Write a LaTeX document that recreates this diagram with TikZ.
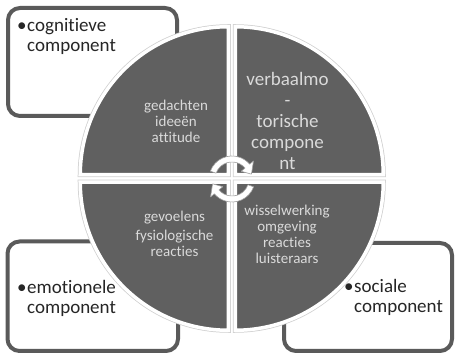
\documentclass[tikz,border=0pt]{standalone}
\usepackage{fontspec}
\setmainfont{Carlito}[Ligatures=NoCommon]
\definecolor{boxgray}{HTML}{5A5A5A}
\definecolor{outgray}{HTML}{CFCFCF}
\definecolor{quadfill}{HTML}{606060}
\definecolor{textdark}{HTML}{262626}
\definecolor{qtextc}{HTML}{DADADA}
\definecolor{arrowgray}{HTML}{A0A0A0}
\begin{document}
\begin{tikzpicture}[x=1pt,y=1pt,
  boxstyle/.style={draw=boxgray, line width=4pt, fill=white, rounded corners=12pt},
  quadout/.style={draw=outgray, line width=5pt, line join=miter},
  quadin/.style={draw=white, line width=3.5pt, fill=quadfill, line join=miter},
  boxtext/.style={font=\fontsize{19}{20}\selectfont, text=textdark, align=left, inner sep=0pt, anchor=base west},
  qtext/.style={font=\fontsize{15}{16}\selectfont, text=qtextc, align=center, inner sep=0pt, anchor=base},
  qtextbig/.style={font=\fontsize{19}{21}\selectfont, text=qtextc, align=center, inner sep=0pt, anchor=base},
  cyc/.style={fill=white, draw=arrowgray, line width=0.6pt, line join=round}]
\useasboundingbox (0,0) rectangle (455,355);

% outer boxes
\draw[boxstyle] (8,239) rectangle (177,347);
\draw[boxstyle] (7.5,4) rectangle (178,113.5);
\draw[boxstyle] (284,4) rectangle (452,112);

% quadrants
\foreach \s in {quadout,quadin}{
  \draw[\s] (228.25,180.25) -- ++(180:148pt) arc[start angle=180,end angle=90,radius=148pt] -- cycle;
  \draw[\s] (235.25,180.25) -- ++(90:148pt) arc[start angle=90,end angle=0,radius=148pt] -- cycle;
  \draw[\s] (228.25,172.75) -- ++(180:148pt) arc[start angle=180,end angle=270,radius=148pt] -- cycle;
  \draw[\s] (235.25,172.75) -- ++(0:148pt) arc[start angle=0,end angle=-90,radius=148pt] -- cycle;
}

% cycle arrows
\coordinate (cc) at (232,176);
\draw[cyc, shift={(cc)}] (160:23pt) arc[start angle=160,end angle=40,radius=23pt]
  -- (40:28pt) -- (14:20pt) -- (40:12pt) -- (40:17pt)
  arc[start angle=40,end angle=160,radius=17pt] -- cycle;
\draw[cyc, shift={(cc)}] (-20:23pt) arc[start angle=-20,end angle=-140,radius=23pt]
  -- (-140:28pt) -- (-166:20pt) -- (-140:12pt) -- (-140:17pt)
  arc[start angle=-140,end angle=-20,radius=17pt] -- cycle;

% box texts (base anchor = baseline of last line)
\node[boxtext] (cog) at (27,303) {\llap{\textbullet\hspace{0.5pt}}cognitieve\\component};
\node[boxtext] (emo) at (27,41) {\llap{\textbullet\hspace{0.5pt}}emotionele\\component};
\node[boxtext] (soc) at (354,42) {\llap{\textbullet\hspace{0.5pt}}sociale\\component};

% quadrant texts
\node[qtext] (qtl) at (176,212) {gedachten\\ideeën\\attitude};
\node[qtextbig] (qtr) at (287.5,185) {verbaalmo\\-\\torische\\compone\\nt};
\node[qtext] (qbl) at (174.5,98) {gevoelens\\[3pt]fysiologische\\reacties};
\node[qtext] (qbr) at (287,91) {wisselwerking\\omgeving\\reacties\\luisteraars};
\end{tikzpicture}
\end{document}
